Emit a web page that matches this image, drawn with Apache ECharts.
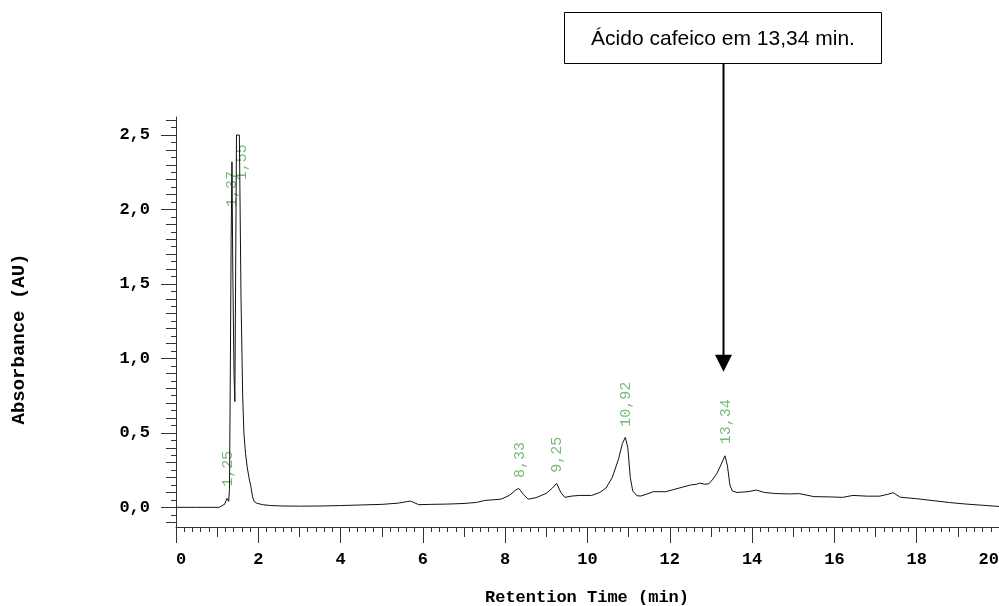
<!DOCTYPE html>
<html>
<head>
<meta charset="utf-8">
<script src="https://cdn.jsdelivr.net/npm/echarts@6/dist/echarts.min.js"></script>
<style>html,body{margin:0;padding:0;background:#fff;overflow:hidden}#c{width:999px;height:606px}</style>
</head>
<body>
<div id="c"></div>
<script>
// Chromatogram trace: retention time (min) and absorbance (AU)
var times = [0, 0.5, 1.0, 1.06, 1.12, 1.18, 1.22, 1.24, 1.26, 1.28, 1.3, 1.32, 1.34, 1.36, 1.38, 1.41, 1.43, 1.45, 1.47, 1.54, 1.58, 1.62, 1.65, 1.69, 1.73, 1.78, 1.82, 1.86, 1.9, 1.96, 2.1, 2.3, 2.6, 3.0, 3.5, 4.0, 4.5, 5.0, 5.4, 5.6, 5.7, 5.8, 5.9, 6.2, 6.6, 7.0, 7.3, 7.5, 7.9, 8.1, 8.25, 8.33, 8.45, 8.56, 8.75, 9.0, 9.15, 9.25, 9.35, 9.45, 9.6, 9.8, 10.1, 10.3, 10.45, 10.6, 10.75, 10.85, 10.92, 10.98, 11.04, 11.1, 11.2, 11.3, 11.45, 11.6, 11.9, 12.1, 12.3, 12.5, 12.65, 12.73, 12.85, 12.95, 13.05, 13.15, 13.25, 13.34, 13.4, 13.46, 13.52, 13.63, 13.9, 14.1, 14.3, 14.55, 14.9, 15.15, 15.5, 15.9, 16.2, 16.45, 16.8, 17.1, 17.3, 17.43, 17.6, 18.0, 18.4, 18.8, 19.2, 19.6, 20.0];
var absorbance = [0.0, 0.0, 0.0, 0.001, 0.012, 0.02, 0.03, 0.06, 0.068, 0.04, 0.12, 0.9, 1.8, 2.32, 1.6, 0.9, 0.71, 1.6, 2.5, 2.5, 1.4, 0.75, 0.5, 0.36, 0.27, 0.19, 0.14, 0.07, 0.04, 0.028, 0.018, 0.012, 0.009, 0.008, 0.009, 0.012, 0.016, 0.02, 0.028, 0.038, 0.042, 0.03, 0.018, 0.02, 0.022, 0.026, 0.033, 0.046, 0.055, 0.08, 0.115, 0.127, 0.085, 0.055, 0.065, 0.094, 0.13, 0.161, 0.1, 0.067, 0.075, 0.08, 0.08, 0.1, 0.13, 0.2, 0.32, 0.43, 0.47, 0.4, 0.2, 0.11, 0.078, 0.076, 0.09, 0.105, 0.105, 0.12, 0.135, 0.15, 0.155, 0.163, 0.155, 0.158, 0.19, 0.23, 0.29, 0.346, 0.28, 0.15, 0.11, 0.1, 0.105, 0.116, 0.1, 0.093, 0.09, 0.092, 0.072, 0.07, 0.067, 0.08, 0.075, 0.075, 0.088, 0.098, 0.068, 0.058, 0.045, 0.032, 0.022, 0.014, 0.006];

// Peak retention-time labels
var peakLabels = ['1,25', '1,37', '1,55', '8,33', '9,25', '10,92', '13,34'];
var peakLabelTime = [1.26, 1.36, 1.6, 8.35, 9.27, 10.93, 13.36];
var peakLabelAbs = [0.138, 2.017, 2.197, 0.197, 0.232, 0.541, 0.423];

// Axis tick labels
var xTickLabels = [0, 2, 4, 6, 8, 10, 12, 14, 16, 18, 20];
var xMidTicks = [1, 3, 5, 7, 9, 11, 13, 15, 17, 19];
var yTickLabels = [0, 0.5, 1.0, 1.5, 2.0, 2.5];

// Annotation
var annotationText = 'Ácido cafeico em 13,34 min.';
var arrowTime = 13.3;
var arrowTipAbs = 0.91;

var xMinor = [];
for (var i = 0; i <= 100; i++) { if (i % 5 !== 0) xMinor.push(Math.round(i * 2) / 10); }
var yMid = [], yMinor = [];
for (var k = -2; k <= 52; k++) {
  var v = Math.round(k * 5) / 100;
  if (k % 2 !== 0) yMinor.push(v);
  else if (k % 10 !== 0) yMid.push(v);
}

var lineData = times.map(function (t, i) { return [t, absorbance[i]]; });
var labelData = peakLabels.map(function (s, i) { return { value: [peakLabelTime[i], peakLabelAbs[i]], name: s }; });

var XMIN = 0, XMAX = 20, YMIN = -0.132, YMAX = 2.621;
var tickColor = '#333';
var mono = '"Liberation Mono", "DejaVu Sans Mono", monospace';

function xAx(vals, len, showLabel, showLine) {
  return {
    type: 'value', min: XMIN, max: XMAX, position: 'bottom', offset: 0,
    splitLine: { show: false },
    axisLine: { show: showLine, onZero: false, lineStyle: { color: tickColor, width: 1 } },
    axisTick: { show: true, customValues: vals, length: len, lineStyle: { color: tickColor, width: 1 } },
    axisLabel: showLabel ? {
      show: true, customValues: xTickLabels, margin: 24,
      fontFamily: mono, fontWeight: 'bold', fontSize: 17, color: '#000',
      alignMinLabel: 'left', alignMaxLabel: 'right',
      formatter: function (v) { return String(v); }
    } : { show: false }
  };
}
function yAx(vals, len, showLabel, showLine) {
  return {
    type: 'value', min: YMIN, max: YMAX, position: 'left', offset: 0,
    splitLine: { show: false },
    axisLine: { show: showLine, onZero: false, lineStyle: { color: tickColor, width: 1 } },
    axisTick: { show: true, customValues: vals, length: len, lineStyle: { color: tickColor, width: 1 } },
    axisLabel: showLabel ? {
      show: true, customValues: yTickLabels, margin: 26,
      fontFamily: mono, fontWeight: 'bold', fontSize: 17, color: '#000',
      formatter: function (v) { return v.toFixed(1).replace('.', ','); }
    } : { show: false }
  };
}

var chart = echarts.init(document.getElementById('c'), null, { renderer: 'canvas' });
chart.setOption({
  animation: false,
  backgroundColor: '#fff',
  grid: { left: 176, right: 0, top: 117, bottom: 79, containLabel: false, outerBoundsMode: 'none' },
  xAxis: [xAx(xTickLabels, 16, true, true), xAx(xMidTicks, 10, false, false), xAx(xMinor, 5, false, false)],
  yAxis: [yAx(yTickLabels, 15, true, true), yAx(yMid, 10, false, false), yAx(yMinor, 5, false, false)],
  series: [
    {
      type: 'line', data: lineData, xAxisIndex: 0, yAxisIndex: 0,
      symbol: 'none', smooth: false,
      lineStyle: { color: '#111', width: 1 }
    },
    {
      type: 'scatter', data: labelData, xAxisIndex: 0, yAxisIndex: 0,
      symbolSize: 0, silent: true,
      label: {
        show: true, position: 'inside', rotate: 90, align: 'left', verticalAlign: 'middle',
        formatter: function (p) { return p.name; },
        fontFamily: mono, fontSize: 15, color: '#55a855'
      }
    }
  ]
});

var tip = chart.convertToPixel({ gridIndex: 0 }, [arrowTime, arrowTipAbs]);
var ax = Math.round(tip[0]) + 0.5;
var boxL = 564.5, boxR = 881.5, boxT = 12.5, boxB = 63.5;
chart.setOption({
  graphic: [
    { type: 'rect', shape: { x: boxL, y: boxT, width: boxR - boxL, height: boxB - boxT },
      style: { fill: '#fff', stroke: '#000', lineWidth: 1 } },
    { type: 'text', x: (boxL + boxR) / 2, y: (boxT + boxB) / 2 + 1,
      style: { text: annotationText, font: '21px "Liberation Sans", Arial, sans-serif', fill: '#000', align: 'center', verticalAlign: 'middle' } },
    { type: 'line', shape: { x1: ax, y1: boxB, x2: ax, y2: tip[1] - 14 },
      style: { stroke: '#000', lineWidth: 2 } },
    { type: 'polygon', shape: { points: [[ax - 8.5, tip[1] - 17], [ax + 8.5, tip[1] - 17], [ax, tip[1]]] },
      style: { fill: '#000' } },
    { type: 'text', x: 587, y: 598,
      style: { text: 'Retention Time (min)', font: 'bold 17px ' + mono, fill: '#000', align: 'center', verticalAlign: 'middle' } },
    { type: 'text', x: 19, y: 339, rotation: Math.PI / 2,
      style: { text: 'Absorbance (AU)', font: 'bold 19px ' + mono, fill: '#000', align: 'center', verticalAlign: 'middle' } }
  ]
});
</script>
</body>
</html>
